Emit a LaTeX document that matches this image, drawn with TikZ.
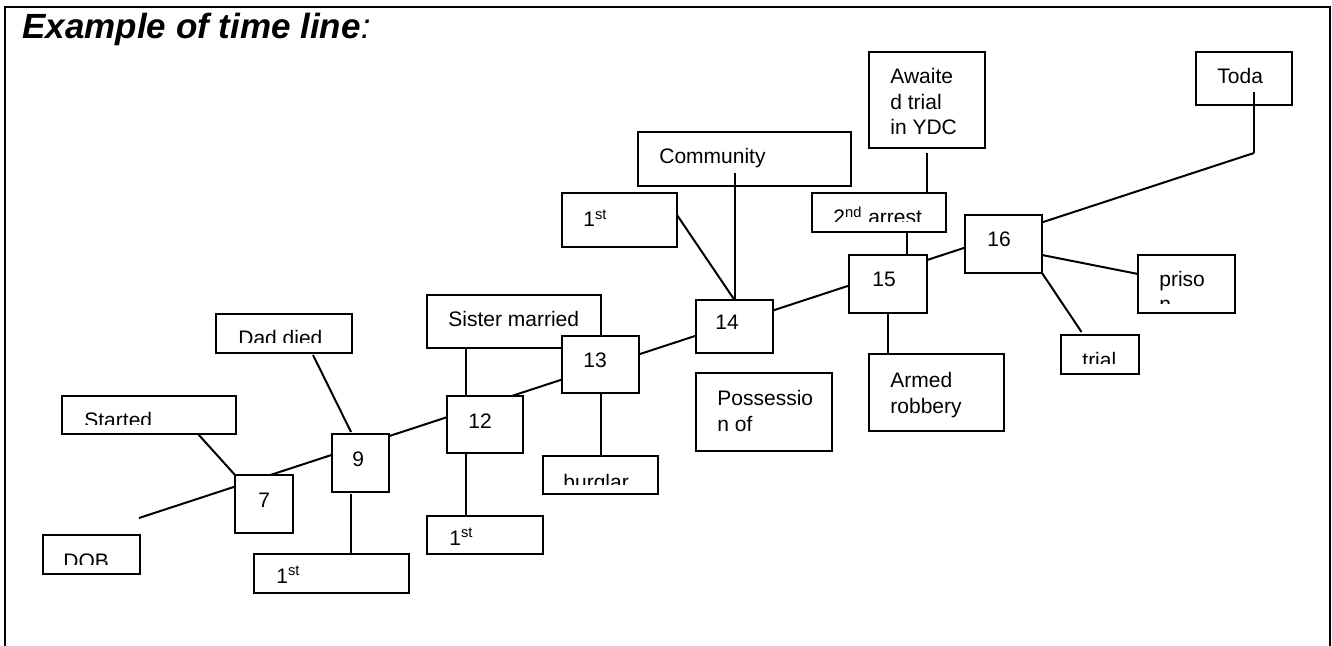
\documentclass[tikz,border=0pt]{standalone}
\usepackage{fontspec}
\setmainfont{Liberation Sans}

\tikzset{
  evbox/.style={draw, line width=1.1pt, fill=white, anchor=north west,
                inner sep=0pt, outer sep=0pt},
  evtext/.style={anchor=base west, inner sep=0pt,
                 font=\fontsize{10.5}{12.7}\selectfont},
  tline/.style={line width=1pt},
  frame/.style={line width=1.1pt}
}

\begin{document}
\begin{tikzpicture}[x=0.5pt,y=-0.5pt]
    \useasboundingbox (0,0) rectangle (1332,646);

    % --- page frame (open at the bottom) ---
    \draw[frame] (5,646) -- (5,7) -- (1330,7) -- (1330,646);

    \node[anchor=base west, inner sep=0pt,
          font=\fontsize{17.5}{21}\selectfont] (title) at (22,39)
          {\textbf{\textit{Example of time line}}\textit{:}};

    % --- the time line itself, boxes sit on top of it ---
    \coordinate (tlstart) at (139,518);
    \coordinate (tlbend) at (1254,153);
    \draw[tline] (tlstart) -- (tlbend);

    % ======================================================
    % early years
    % ======================================================
    \node[evbox, minimum width=48.5pt, minimum height=19.5pt] (dob) at (43,535) {};
    \begin{scope}
        \clip (43,535) rectangle (140,564);
        \node[evtext] (dobtxt) at (63,568) {DOB};
    \end{scope}

    \node[evbox, minimum width=87pt, minimum height=19pt] (started) at (62,396) {};
    \begin{scope}
        \clip (62,396) rectangle (236,424);
        \node[evtext] (startedtxt) at (84,427) {Started};
    \end{scope}

    \node[evbox, minimum width=29pt, minimum height=29pt] (t7) at (235,475) {};
    \node[evtext] (t7txt) at (258,507) {7};

    \node[evbox, minimum width=28.5pt, minimum height=29pt] (t9) at (332,434) {};
    \node[evtext] (t9txt) at (352,466) {9};

    \node[evbox, minimum width=77.5pt, minimum height=19.5pt] (firsta) at (254,554) {};
    \node[evtext] (firstatxt) at (276,583) {1\textsuperscript{st}};

    \node[evbox, minimum width=68pt, minimum height=19.5pt] (dad) at (216,314) {};
    \begin{scope}
        \clip (216,314) rectangle (352,343);
        \node[evtext] (dadtxt) at (238,346) {Dad died};
    \end{scope}

    % ======================================================
    % 12 -- 14
    % ======================================================
    \node[evbox, minimum width=87pt, minimum height=26.5pt] (sister) at (427,295) {};
    \node[evtext] (sistertxt) at (448,327) {Sister married};

    \node[evbox, minimum width=38pt, minimum height=28.5pt] (t12) at (447,396) {};
    \node[evtext] (t12txt) at (468,428) {12};

    \node[evbox, minimum width=58pt, minimum height=19pt] (firstb) at (427,516) {};
    \node[evtext] (firstbtxt) at (449,545) {1\textsuperscript{st}};

    \node[evbox, minimum width=38.5pt, minimum height=28.5pt] (t13) at (562,336) {};
    \node[evtext] (t13txt) at (583,367) {13};

    \node[evbox, minimum width=57.5pt, minimum height=19pt] (burglar) at (543,456) {};
    \begin{scope}
        \clip (543,456) rectangle (658,484);
        \node[evtext] (burglartxt) at (563,489) {burglar};
    \end{scope}

    \node[evbox, minimum width=38.5pt, minimum height=26.5pt] (t14) at (696,300) {};
    \node[evtext] (t14txt) at (715,329) {14};

    \node[evbox, minimum width=68pt, minimum height=39pt] (possession) at (696,373) {};
    \node[evtext] (possessiona) at (717,406) {Possessio};
    \node[evtext] (possessionb) at (717,431) {n of};

    \node[evbox, minimum width=106.5pt, minimum height=27pt] (community) at (638,132) {};
    \begin{scope}
        \clip (638,132) rectangle (851,175);
        \node[evtext] (communitytxt) at (659,164) {Community};
    \end{scope}

    \node[evbox, minimum width=57.5pt, minimum height=27pt] (firstc) at (562,193) {};
    \node[evtext] (firstctxt) at (583,227) {1\textsuperscript{st}};

    % ======================================================
    % 15 -- today
    % ======================================================
    \node[evbox, minimum width=58pt, minimum height=48pt] (awaited) at (869,52) {};
    \node[evtext] (awaiteda) at (890,84) {Awaite};
    \node[evtext] (awaitedb) at (890,110) {d trial};
    \node[evtext] (awaitedc) at (890,135) {in YDC};

    \node[evbox, minimum width=67pt, minimum height=19.5pt] (arrest) at (812,193) {};
    \begin{scope}
        \clip (812,193) rectangle (946,222);
        \node[evtext] (arresttxt) at (833,225) {2\textsuperscript{nd} arrest};
    \end{scope}

    \node[evbox, minimum width=39pt, minimum height=29pt] (t15) at (849,255) {};
    \node[evtext] (t15txt) at (872,287) {15};

    \node[evbox, minimum width=67.5pt, minimum height=38.5pt] (armed) at (869,354) {};
    \node[evtext] (armeda) at (890,387) {Armed};
    \node[evtext] (armedb) at (890,413) {robbery};

    \node[evbox, minimum width=38.5pt, minimum height=29pt] (t16) at (965,215) {};
    \node[evtext] (t16txt) at (987,247) {16};

    \node[evbox, minimum width=48pt, minimum height=26.5pt] (toda) at (1196,52) {};
    \node[evtext] (todatxt) at (1217,84) {Toda};

    \node[evbox, minimum width=48.5pt, minimum height=29pt] (priso) at (1138,255) {};
    \begin{scope}
        \clip (1138,255) rectangle (1235,304);
        \node[evtext] (prisoa) at (1159,287) {priso};
        \node[evtext] (prisob) at (1159,312) {n};
    \end{scope}

    \node[evbox, minimum width=39pt, minimum height=19.5pt] (trial) at (1061,335) {};
    \begin{scope}
        \clip (1061,335) rectangle (1139,364);
        \node[evtext] (trialtxt) at (1082,367) {trial};
    \end{scope}

    % --- connectors from the events to the years ---
    \draw[tline] ([xshift=24.5pt]started.south) -- (t7.north west);
    \draw[tline] ([xshift=14.5pt,yshift=-1pt]dad.south) -- ([xshift=-4.75pt,yshift=1pt]t9.north);
    \draw[tline] ([xshift=-4.75pt,yshift=-1pt]t9.south) -- ([xshift=-4.75pt]t9.south |- firsta.north);
    \draw[tline] ([xshift=-9.5pt]t12.north) -- ([xshift=-9.5pt]t12.north |- sister.south);
    \draw[tline] ([xshift=-9.5pt]t12.south) -- ([xshift=-9.5pt]t12.south |- firstb.north);
    \draw[tline] (t13.south) -- (t13.south |- burglar.north);
    \draw[tline] ([yshift=2.5pt]firstc.east) -- (t14.north);
    \draw[tline] (t14.north) -- ([yshift=6.5pt]t14.north |- community.south);
    \draw[tline] ([yshift=-2.5pt]awaited.south) -- (awaited.south |- arrest.north);
    \draw[tline] ([xshift=9.5pt]t15.north) -- ([xshift=9.5pt]t15.north |- arrest.south);
    \draw[tline] (t15.south) -- (t15.south |- armed.north);
    \draw[tline] ([yshift=-5.5pt]t16.east) -- ([yshift=5pt]priso.west);
    \draw[tline] (t16.south east) -- ([xshift=-9.25pt,yshift=1.5pt]trial.north);
    \draw[tline] (tlbend) -- ([yshift=6.5pt]tlbend |- toda.south);

\end{tikzpicture}
\end{document}
